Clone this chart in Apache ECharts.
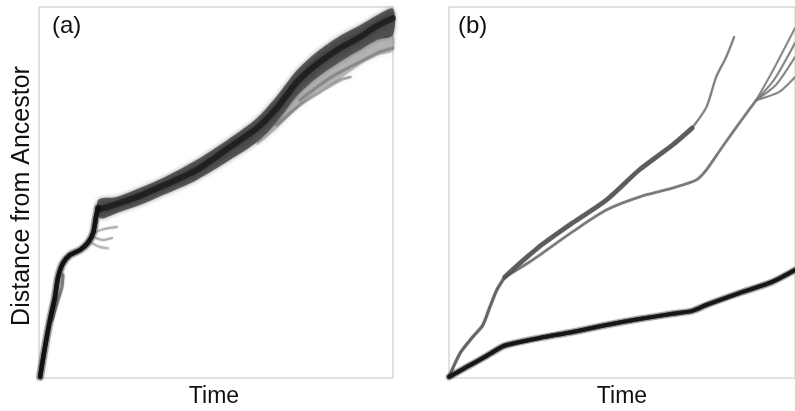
<!DOCTYPE html>
<html>
<head>
<meta charset="utf-8">
<script src="https://cdn.jsdelivr.net/npm/echarts@6/dist/echarts.min.js"></script>
<style>
html,body{margin:0;padding:0;background:#fff;}
#chart{width:795px;height:411px;}
</style>
</head>
<body>
<div id="chart"></div>
<script>
// ---- Panel (a): ensemble of lineages (x: time 0-100, y: distance 0-100) ----
var coreEarlyA = [[0.3,0.3],[1.7,8.4],[3.1,15.6],[4.5,21.8],[5.4,27.2],[6.8,31.0],[8.8,33.2],[11.6,34.5],[13.8,36.4],[15.3,39.1],[16.1,43.4],[16.7,45.8]];
var coreA = [[16.7,45.8],[17.2,45.6],[22.0,46.9],[28.5,49.1],[35.0,51.8],[44.6,56.1],[54.0,62.3],[61.6,67.4],[67.2,72.8],[72.9,79.8],[78.5,84.6],[85.0,88.9],[90.7,91.9],[95.5,94.9],[100,97.0]];
var upperA = [[16.7,48.0],[22.0,48.8],[28.5,51.2],[35.0,53.9],[44.6,58.8],[54.0,64.7],[61.6,70.1],[67.2,76.0],[72.9,83.0],[78.5,87.9],[85.0,92.2],[90.7,95.1],[95.5,97.8],[100,99.5]];
var lowerA = [[17.2,43.1],[22.0,44.5],[28.5,46.6],[35.0,49.3],[44.6,53.4],[54.0,58.8],[61.6,63.6],[67.2,69.0],[72.9,76.0],[78.5,80.9],[85.0,85.2],[90.7,88.4],[95.5,91.1],[100,92.5]];
var spreadUpA = [[61.6,63.6],[67.2,69.0],[72.9,76.0],[78.5,80.9],[85.0,85.2],[90.7,88.4],[95.5,91.1],[100,92.5]];
var spreadLowA = [[61.6,62.8],[67.2,67.2],[72.9,72.6],[78.5,77.0],[85.0,80.6],[90.7,84.4],[95.5,86.8],[100,88.2]];
var fringe1A = [[67.2,68.2],[73.7,73.6],[79.4,77.1],[85.0,80.3],[87.9,81.1]];
var fringe2A = [[73.7,74.9],[82.2,80.9],[90.7,85.2],[96.3,87.9],[100,88.9]];
var wisp1A = [[15.3,39.1],[18.6,40.2],[22.0,40.7]];
var wisp2A = [[15.3,38.0],[18.1,37.2],[20.6,37.7]];
var wisp3A = [[14.4,36.7],[17.2,35.3],[19.5,35.0]];
var strandA = [[3.7,15.6],[5.4,21.0],[6.5,24.5],[6.8,27.8]];

// ---- Panel (b): diverging lineages ----
var lowerB = [[0,0.3],[5.2,3.0],[9.8,5.4],[15.3,8.4],[16.7,8.9],[26.2,10.8],[35.7,12.4],[45.5,14.3],[55.0,15.9],[64.6,17.3],[70.3,18.1],[74.4,19.7],[83.9,22.9],[93.4,25.9],[100,29.1]];
var stemB = [[0,0.3],[3.2,6.7],[6.9,11.1],[9.8,14.3],[11.8,19.1],[13.8,23.7],[16.1,27.2]];
var branchUpB = [[16.1,27.2],[19.6,30.2],[23.3,33.2],[27.1,36.1],[35.7,41.8],[45.5,48.0],[55.0,56.1],[64.6,62.8],[70.3,67.4]];
var tipUpB = [[70.3,67.4],[74.4,73.0],[77.2,81.1],[80.1,86.5],[82.4,91.9]];
var branchLowB = [[16.1,27.2],[19.6,29.1],[23.3,31.3],[27.1,33.7],[35.7,39.4],[45.5,45.3],[55.0,48.8],[64.6,51.2],[71.5,53.4],[74.4,56.1],[79.0,62.3],[83.9,68.7],[88.8,74.9]];
var splay1B = [[88.8,74.9],[93.4,82.5],[100,94.3]];
var splay2B = [[88.8,74.9],[93.9,80.3],[100,90.3]];
var splay3B = [[88.8,74.9],[94.5,79.0],[100,86.5]];
var splay4B = [[88.8,74.9],[95.4,77.1],[100,81.1]];

var panelLabels = ['(a)', '(b)'];
var xLabel = 'Time';
var yLabel = 'Distance from Ancestor';

var FONT = '"Liberation Sans", Arial, Helvetica, sans-serif';

function ln(data, idx, width, color, z, blur) {
  return {
    type: 'line', data: data, xAxisIndex: idx, yAxisIndex: idx,
    showSymbol: false, symbol: 'none', smooth: 0.25, z: z || 2, silent: true,
    lineStyle: { width: width, color: color, cap: 'round', join: 'round',
      shadowBlur: blur || 0, shadowColor: blur ? color : 'transparent' }
  };
}

// band between an upper and lower envelope, drawn through the axis scales
function band(upper, lower, idx, fill, blur, z) {
  return {
    type: 'custom', xAxisIndex: idx, yAxisIndex: idx, z: z || 3, silent: true,
    data: [0],
    renderItem: function (params, api) {
      var pts = [];
      upper.forEach(function (p) { pts.push(api.coord(p)); });
      lower.slice().reverse().forEach(function (p) { pts.push(api.coord(p)); });
      return {
        type: 'polygon',
        shape: { points: pts, smooth: 0.3 },
        style: { fill: fill, shadowBlur: blur, shadowColor: fill }
      };
    }
  };
}

var chart = echarts.init(document.getElementById('chart'), null, { renderer: 'canvas' });
var axisCommon = { type: 'value', min: 0, max: 100, show: false };

chart.setOption({
  animation: false,
  backgroundColor: '#fff',
  grid: [
    { left: 39, top: 7, width: 354, height: 371, show: true, borderColor: '#c4c4c4', borderWidth: 1, backgroundColor: 'transparent' },
    { left: 449, top: 7, width: 347, height: 371, show: true, borderColor: '#c4c4c4', borderWidth: 1, backgroundColor: 'transparent' }
  ],
  xAxis: [Object.assign({ gridIndex: 0 }, axisCommon), Object.assign({ gridIndex: 1 }, axisCommon)],
  yAxis: [Object.assign({ gridIndex: 0 }, axisCommon), Object.assign({ gridIndex: 1 }, axisCommon)],
  series: [
    // panel a
    ln(coreEarlyA, 0, 8, 'rgba(40,40,40,0.35)', 2, 3),
    ln(strandA, 0, 3, 'rgba(60,60,60,0.55)', 2, 2),
    ln(wisp1A, 0, 2.5, 'rgba(110,110,110,0.45)', 2, 2),
    ln(wisp2A, 0, 2.5, 'rgba(110,110,110,0.45)', 2, 2),
    ln(wisp3A, 0, 2.5, 'rgba(110,110,110,0.40)', 2, 2),
    band(spreadUpA, spreadLowA, 0, 'rgba(120,120,120,0.45)', 5, 2),
    ln(fringe1A, 0, 3, 'rgba(110,110,110,0.5)', 2, 2),
    ln(fringe2A, 0, 3, 'rgba(110,110,110,0.5)', 2, 2),
    band(upperA, lowerA, 0, 'rgba(50,50,50,0.72)', 4, 3),
    ln(coreEarlyA, 0, 4.5, 'rgba(15,15,15,0.9)', 4, 1),
    ln(coreA, 0, 6, 'rgba(15,15,15,0.6)', 4, 4),
    // panel b
    ln(splay1B, 1, 1.8, 'rgba(120,120,120,0.8)', 2, 1),
    ln(splay2B, 1, 1.8, 'rgba(120,120,120,0.8)', 2, 1),
    ln(splay3B, 1, 1.8, 'rgba(120,120,120,0.8)', 2, 1),
    ln(splay4B, 1, 1.8, 'rgba(120,120,120,0.8)', 2, 1),
    ln(branchLowB, 1, 2.5, 'rgba(115,115,115,0.85)', 2, 1),
    ln(tipUpB, 1, 2, 'rgba(120,120,120,0.85)', 2, 1),
    ln(stemB, 1, 3, 'rgba(95,95,95,0.85)', 3, 1),
    ln(branchUpB, 1, 4.5, 'rgba(85,85,85,0.85)', 3, 1),
    ln(lowerB, 1, 7, 'rgba(50,50,50,0.35)', 3, 2),
    ln(lowerB, 1, 4, 'rgba(20,20,20,0.9)', 4, 1)
  ],
  graphic: [
    { type: 'text', left: 52, top: 14, style: { text: panelLabels[0], font: '24px ' + FONT, fill: '#111' } },
    { type: 'text', left: 458, top: 14, style: { text: panelLabels[1], font: '24px ' + FONT, fill: '#111' } },
    { type: 'text', x: 214, y: 397, style: { text: xLabel, font: '23px ' + FONT, fill: '#111', align: 'center', verticalAlign: 'middle' } },
    { type: 'text', x: 622, y: 397, style: { text: xLabel, font: '23px ' + FONT, fill: '#111', align: 'center', verticalAlign: 'middle' } },
    { type: 'text', x: 22, y: 196, rotation: Math.PI / 2, style: { text: yLabel, font: '25px ' + FONT, fill: '#111', align: 'center', verticalAlign: 'middle' } }
  ]
});
</script>
</body>
</html>
